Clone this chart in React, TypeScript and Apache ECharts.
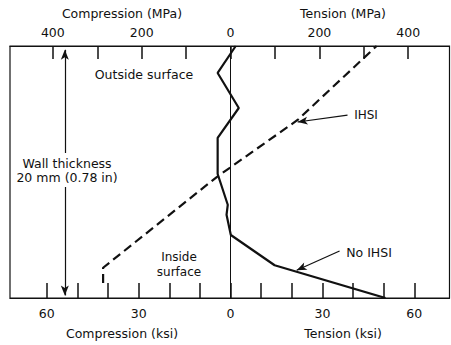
import React, { useEffect, useRef } from "react";
import * as echarts from "echarts";

// Stress in ksi (negative = compression), depth in mm from outside surface
const noIhsiStress = [1.7, -4.2, 2.7, -4.2, -4.2, -0.9, -1.3, 0.1, 14.4, 50.6];
const noIhsiDepth = [0, 2.14, 4.92, 7.3, 10.16, 12.6, 13.4, 15.0, 17.4, 20];
const ihsiStress = [-41.6, -41.6, -4.5, 21.9, 47.7];
const ihsiDepth = [18.8, 17.6, 10.4, 5.87, 0];

const ksiTicks = [-60, -50, -40, -30, -20, -10, 0, 10, 20, 30, 40, 50, 60];
const ksiLabels = [-60, -30, 0, 30, 60];
const mpaTicks = [-400, -300, -200, -100, 0, 100, 200, 300, 400];
const mpaLabels = [-400, -200, 0, 200, 400];

const KSI_MIN = -72;
const KSI_MAX = 71.5;
const MPA_PER_KSI = 6.895;

const FONT = "'DejaVu Sans', Verdana, sans-serif";
const INK = "#111";

export default function App() {
  const ref = useRef<HTMLDivElement>(null);
  useEffect(() => {
    if (!ref.current) return;
    const chart = echarts.init(ref.current, undefined, { renderer: "svg" });
    const axisCommon = {
      type: "value",
      splitLine: { show: false },
      axisLine: { show: true, onZero: false, lineStyle: { color: INK, width: 1.2 } },
    };
    const txt = (text: string, x: number, y: number, extra: any = {}) => ({
      type: "text",
      x,
      y,
      z: 100,
      style: {
        text,
        fill: INK,
        fontSize: 12.5,
        fontFamily: FONT,
        align: "center",
        verticalAlign: "middle",
        ...extra,
      },
    });
    const option: any = {
      animation: false,
      backgroundColor: "#fff",
      grid: {
        left: 10,
        right: 1.5,
        top: 46,
        bottom: 47,
        show: true,
        borderColor: INK,
        borderWidth: 1.2,
      },
      xAxis: [
        {
          ...axisCommon,
          position: "bottom",
          min: KSI_MIN,
          max: KSI_MAX,
          axisTick: {
            show: true,
            inside: true,
            length: 15,
            customValues: ksiTicks,
            lineStyle: { color: INK, width: 1.5 },
          },
          axisLabel: {
            customValues: ksiLabels,
            formatter: (v: number) => String(Math.abs(v)),
            margin: 9,
            color: INK,
            fontSize: 12.5,
            fontFamily: FONT,
          },
        },
        {
          ...axisCommon,
          position: "top",
          min: KSI_MIN * MPA_PER_KSI,
          max: KSI_MAX * MPA_PER_KSI,
          axisTick: {
            show: true,
            inside: true,
            length: 13,
            customValues: mpaTicks,
            lineStyle: { color: INK, width: 1.5 },
          },
          axisLabel: {
            customValues: mpaLabels,
            formatter: (v: number) => String(Math.abs(v)),
            margin: 7,
            color: INK,
            fontSize: 12.5,
            fontFamily: FONT,
          },
        },
      ],
      yAxis: {
        type: "value",
        inverse: true,
        min: 0,
        max: 20,
        show: false,
      },
      series: [
        {
          name: "No IHSI",
          type: "line",
          xAxisIndex: 0,
          data: noIhsiStress.map((s, i) => [s, noIhsiDepth[i]]),
          showSymbol: false,
          symbol: "none",
          lineStyle: { color: INK, width: 2.2 },
          z: 3,
          markLine: {
            silent: true,
            symbol: "none",
            label: { show: false },
            lineStyle: { color: INK, width: 1, type: "solid" },
            data: [{ xAxis: 0 }],
          },
        },
        {
          name: "IHSI",
          type: "line",
          xAxisIndex: 0,
          data: ihsiStress.map((s, i) => [s, ihsiDepth[i]]),
          showSymbol: false,
          symbol: "none",
          lineStyle: { color: INK, width: 2.2, type: [9, 5] },
          z: 3,
          markLine: {
            silent: true,
            label: { show: false },
            symbolSize: [6, 10],
            lineStyle: { color: INK, width: 1.2, type: "solid" },
            data: [
              [
                { coord: [-54.1, 0.3], symbol: "arrow" },
                { coord: [-54.1, 19.8], symbol: "arrow" },
              ],
              [
                { coord: [38.2, 5.48], symbol: "none" },
                { coord: [21.9, 6.03], symbol: "arrow" },
              ],
              [
                { coord: [35.6, 16.27], symbol: "none" },
                { coord: [21.6, 17.8], symbol: "arrow" },
              ],
            ],
          },
        },
      ],
      graphic: [
        txt("Compression (MPa)", 122, 13),
        txt("Tension (MPa)", 343, 13),
        txt("Compression (ksi)", 122, 333),
        txt("Tension (ksi)", 343, 333),
        txt("Outside surface", 144, 74),
        txt("Wall thickness\n20 mm (0.78 in)", 67, 170, {
          lineHeight: 14,
          backgroundColor: "#fff",
          padding: [3, 0, 3, 0],
        }),
        txt("Inside", 179, 256.5, { fontSize: 12 }),
        txt("surface", 179, 271.5, { fontSize: 12 }),
        txt("IHSI", 366, 115, { fontSize: 12 }),
        txt("No IHSI", 369, 252),
      ],
    };
    chart.setOption(option);
    return () => chart.dispose();
  }, []);
  return (
    <div
      ref={ref}
      style={{ position: "fixed", left: 0, top: 0, width: 451, height: 345 }}
    />
  );
}
